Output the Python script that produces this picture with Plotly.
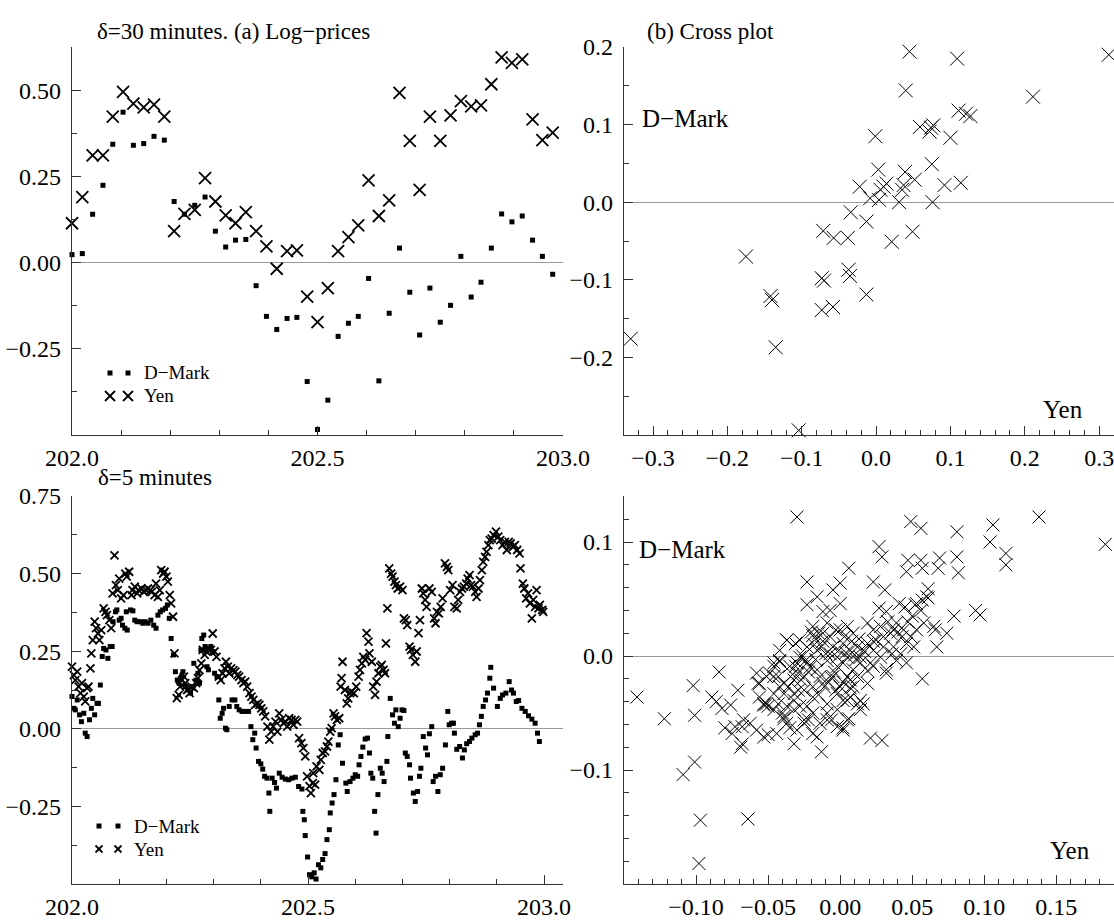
import plotly.graph_objects as go

W, H = 1114, 921
FONT = "Liberation Serif, Times New Roman, serif"
AX = "#333333"

# ---------------- (a) 30-minute log-prices ----------------
t30 = [202.000, 202.021, 202.042, 202.063, 202.083, 202.104, 202.125, 202.146, 202.167, 202.188,
       202.208, 202.229, 202.250, 202.271, 202.292, 202.313, 202.333, 202.354, 202.375, 202.396,
       202.417, 202.438, 202.458, 202.479, 202.500, 202.521, 202.542, 202.563, 202.583, 202.604,
       202.625, 202.646, 202.667, 202.688, 202.708, 202.729, 202.750, 202.771, 202.792, 202.813,
       202.833, 202.854, 202.875, 202.896, 202.917, 202.938, 202.958, 202.979]
dm30 = [0.023, 0.026, 0.140, 0.224, 0.343, 0.436, 0.340, 0.345, 0.366, 0.355,
        0.177, 0.140, 0.166, 0.190, 0.091, 0.045, 0.065, 0.067, -0.067, -0.156,
        -0.194, -0.162, -0.159, -0.345, -0.484, -0.399, -0.214, -0.176, -0.156, -0.046,
        -0.343, -0.147, 0.042, -0.086, -0.210, -0.074, -0.173, -0.124, 0.018, -0.100,
        -0.057, 0.042, 0.141, 0.118, 0.135, 0.065, 0.018, -0.034]
yen30 = [0.114, 0.190, 0.311, 0.311, 0.423, 0.495, 0.461, 0.450, 0.458, 0.423,
         0.091, 0.141, 0.153, 0.245, 0.177, 0.137, 0.114, 0.146, 0.091, 0.047,
         -0.018, 0.033, 0.035, -0.099, -0.173, -0.074, 0.033, 0.074, 0.108, 0.238,
         0.135, 0.180, 0.492, 0.353, 0.211, 0.423, 0.353, 0.427, 0.468, 0.453,
         0.456, 0.517, 0.595, 0.579, 0.589, 0.415, 0.355, 0.377]

# ---------------- (b) 30-minute cross plot ----------------
cross30_yen = [-0.330, -0.175, -0.142, -0.140, -0.135, -0.104, -0.071, -0.057, -0.073, -0.070,
               -0.073, -0.058, -0.038, -0.037, -0.035, -0.034, -0.022, 0.045, 0.109, 0.040,
               -0.001, 0.111, 0.121, 0.127, 0.059, 0.074, 0.072, 0.077, 0.100, 0.003,
               0.075, 0.039, 0.052, 0.014, 0.010, 0.006, 0.037, 0.092, 0.114, 0.035,
               -0.008, 0.004, 0.031, 0.076, -0.013, 0.021, 0.049, -0.013, 0.313, 0.211]
cross30_dm = [-0.176, -0.070, -0.121, -0.126, -0.187, -0.294, -0.037, -0.046, -0.098, -0.101,
              -0.139, -0.135, -0.046, -0.087, -0.095, -0.013, 0.020, 0.194, 0.185, 0.144,
              0.085, 0.118, 0.114, 0.111, 0.097, 0.096, 0.091, 0.099, 0.083, 0.042,
              0.049, 0.039, 0.029, 0.024, 0.020, 0.016, 0.022, 0.022, 0.025, 0.016,
              0.005, 0.003, 0.000, 0.000, -0.025, -0.051, -0.038, -0.119, 0.190, 0.136]

# ---------------- 5-minute log-prices ----------------
dm5_t = [202.000, 202.004, 202.007, 202.011, 202.016, 202.020, 202.025, 202.028, 202.032, 202.037,
         202.041, 202.044, 202.048, 202.053, 202.056, 202.060, 202.064, 202.067, 202.072, 202.076,
         202.081, 202.085, 202.087, 202.092, 202.095, 202.100, 202.104, 202.107, 202.112, 202.117,
         202.115, 202.124, 202.129, 202.133, 202.138, 202.145, 202.150, 202.155, 202.161, 202.167,
         202.173, 202.178, 202.182, 202.187, 202.192, 202.198, 202.202, 202.206, 202.210, 202.215,
         202.219, 202.223, 202.227, 202.232, 202.235, 202.240, 202.246, 202.251, 202.256, 202.258,
         202.263, 202.267, 202.270, 202.273, 202.275, 202.279, 202.282, 202.286, 202.289, 202.294,
         202.298, 202.302, 202.307, 202.311, 202.314, 202.318, 202.321, 202.325, 202.328, 202.333,
         202.339, 202.345, 202.349, 202.354, 202.360, 202.367, 202.374, 202.379, 202.383, 202.387,
         202.390, 202.395, 202.400, 202.404, 202.408, 202.413, 202.417, 202.419, 202.424, 202.429,
         202.433, 202.439, 202.445, 202.452, 202.459, 202.466, 202.473, 202.480, 202.487,
         202.489, 202.492, 202.494, 202.499, 202.503, 202.508, 202.513, 202.517, 202.522, 202.527,
         202.531, 202.536, 202.540, 202.545, 202.547, 202.551, 202.555, 202.559, 202.564, 202.568,
         202.573, 202.580, 202.583, 202.589, 202.595, 202.600, 202.605, 202.608, 202.612, 202.616,
         202.621, 202.626, 202.630, 202.633, 202.637, 202.641, 202.644, 202.648, 202.653, 202.657,
         202.661, 202.667, 202.669, 202.674, 202.679, 202.683, 202.686, 202.691, 202.695, 202.699,
         202.703, 202.706, 202.710, 202.715, 202.717, 202.723, 202.727, 202.732, 202.736, 202.739,
         202.744, 202.749, 202.753, 202.757, 202.762, 202.765, 202.770, 202.775, 202.780, 202.785,
         202.791, 202.796, 202.799, 202.804, 202.808, 202.810, 202.815, 202.821, 202.827, 202.831,
         202.836, 202.842, 202.847, 202.854, 202.859, 202.863, 202.867, 202.871, 202.876, 202.880,
         202.887, 202.885, 202.893, 202.901, 202.907, 202.912, 202.919, 202.926, 202.931, 202.935,
         202.941, 202.946, 202.953, 202.960, 202.967, 202.974, 202.981, 202.986, 202.990]
dm5 = [0.104, 0.066, 0.061, 0.093, 0.045, 0.023, 0.050, -0.014, -0.025, 0.029,
       0.066, 0.098, 0.045, 0.082, 0.082, 0.141, 0.233, 0.259, 0.254, 0.227,
       0.265, 0.265, 0.345, 0.377, 0.383, 0.350, 0.356, 0.334, 0.324, 0.318,
       0.377, 0.383, 0.380, 0.350, 0.345, 0.345, 0.340, 0.345, 0.340, 0.350,
       0.334, 0.324, 0.366, 0.377, 0.383, 0.388, 0.399, 0.356, 0.291, 0.238,
       0.184, 0.157, 0.147, 0.168, 0.184, 0.136, 0.125, 0.115, 0.136, 0.211,
       0.157, 0.179, 0.147, 0.254, 0.291, 0.302, 0.265, 0.200, 0.190, 0.265,
       0.249, 0.179, 0.168, 0.093, 0.034, 0.050, 0.066, 0.002, -0.003, 0.072,
       0.093, 0.093, 0.072, 0.061, 0.056, 0.056, 0.056, 0.007, -0.035, -0.014,
       -0.062, -0.105, -0.113, -0.130, -0.153, -0.159, -0.207, -0.266, -0.159, -0.173,
       -0.191, -0.143, -0.156, -0.162, -0.164, -0.159, -0.156, -0.186, -0.194,
       -0.266, -0.293, -0.344, -0.413, -0.470, -0.477, -0.464, -0.484, -0.438, -0.448,
       -0.421, -0.402, -0.357, -0.325, -0.271, -0.239, -0.212, -0.164, -0.052, -0.019,
       -0.111, -0.175, -0.202, -0.170, -0.159, -0.148, -0.153, -0.116, -0.089, -0.059,
       -0.033, -0.030, -0.078, -0.143, -0.159, -0.266, -0.336, -0.212, -0.127, -0.143,
       -0.170, -0.105, -0.025, 0.098, 0.045, 0.018, 0.061, 0.007, 0.034, 0.061,
       0.059, -0.078, -0.089, -0.116, -0.159, -0.207, -0.234, -0.202, -0.153, -0.127,
       -0.025, -0.062, -0.084, -0.016, 0.007, -0.170, -0.153, -0.202, -0.148, -0.127,
       -0.052, 0.056, 0.013, 0.018, 0.018, -0.014, -0.066, -0.057, -0.094, -0.068,
       -0.048, -0.041, -0.030, -0.019, -0.014, 0.013, 0.040, 0.072, 0.093, 0.115,
       0.198, 0.163, 0.131, 0.072, 0.098, 0.109, 0.115, 0.152, 0.125, 0.115,
       0.088, 0.091, 0.066, 0.056, 0.042, 0.031, 0.018, -0.014, -0.041]

yen5_t = [202.000, 202.004, 202.007, 202.011, 202.014, 202.018, 202.021, 202.025, 202.028, 202.032,
          202.035, 202.039, 202.041, 202.044, 202.048, 202.051, 202.055, 202.058, 202.062, 202.067,
          202.071, 202.074, 202.079, 202.083, 202.086, 202.090, 202.093, 202.097, 202.100, 202.104,
          202.109, 202.113, 202.116, 202.121, 202.126, 202.128, 202.133, 202.138, 202.141, 202.147,
          202.152, 202.157, 202.161, 202.166, 202.169, 202.175, 202.178, 202.182, 202.186, 202.189,
          202.193, 202.196, 202.200, 202.203, 202.207, 202.210, 202.214, 202.217, 202.222, 202.226,
          202.229, 202.233, 202.237, 202.240, 202.244, 202.249, 202.253, 202.258, 202.263, 202.267,
          202.270, 202.274, 202.277, 202.281, 202.285, 202.289, 202.294, 202.298, 202.302, 202.306,
          202.311, 202.315, 202.319, 202.323, 202.326, 202.330, 202.333, 202.337, 202.342, 202.346,
          202.350, 202.354, 202.359, 202.363, 202.367, 202.371, 202.376, 202.380, 202.384, 202.388,
          202.393, 202.397, 202.401, 202.405, 202.409, 202.414, 202.418, 202.422, 202.426, 202.431,
          202.435, 202.439, 202.443, 202.448, 202.452, 202.456, 202.460, 202.465, 202.469, 202.473,
          202.477, 202.481, 202.486, 202.490, 202.494, 202.498, 202.503, 202.506,
          202.510, 202.511, 202.515, 202.518, 202.524, 202.527, 202.531, 202.536, 202.540, 202.543,
          202.547, 202.550, 202.554, 202.557, 202.561, 202.566, 202.569, 202.571, 202.573, 202.578,
          202.582, 202.585, 202.589, 202.592, 202.597, 202.602, 202.607, 202.610, 202.614, 202.617,
          202.621, 202.624, 202.628, 202.630, 202.635, 202.638, 202.642, 202.645, 202.649, 202.653,
          202.656, 202.660, 202.663, 202.665, 202.668, 202.672, 202.676, 202.679, 202.683, 202.686,
          202.690, 202.695, 202.700, 202.703, 202.707, 202.710, 202.715, 202.718, 202.722, 202.727,
          202.730, 202.734, 202.737, 202.741, 202.744, 202.748, 202.751, 202.757, 202.762, 202.767,
          202.770, 202.773, 202.777, 202.781, 202.785, 202.790, 202.794, 202.797, 202.801, 202.806,
          202.810, 202.815, 202.818, 202.822, 202.826, 202.830, 202.835, 202.838, 202.842, 202.845,
          202.849, 202.854, 202.857, 202.861, 202.864, 202.868, 202.871, 202.875, 202.878, 202.882,
          202.885, 202.889, 202.893, 202.898, 202.903, 202.907, 202.912, 202.917, 202.921, 202.925,
          202.929, 202.934, 202.938, 202.943, 202.948, 202.950, 202.955, 202.958, 202.962, 202.966,
          202.970, 202.974, 202.977, 202.981, 202.984, 202.988, 202.991, 202.996, 202.998]
yen5 = [0.200, 0.173, 0.157, 0.184, 0.136, 0.115, 0.147, 0.104, 0.088, 0.131,
        0.136, 0.195, 0.243, 0.286, 0.345, 0.324, 0.307, 0.286, 0.318, 0.388,
        0.377, 0.366, 0.350, 0.324, 0.436, 0.559, 0.463, 0.447, 0.484, 0.420,
        0.431, 0.500, 0.490, 0.506, 0.431, 0.447, 0.458, 0.436, 0.447, 0.452,
        0.441, 0.447, 0.452, 0.447, 0.441, 0.431, 0.468, 0.425, 0.447, 0.511,
        0.500, 0.506, 0.490, 0.474, 0.431, 0.404, 0.361, 0.243, 0.099, 0.109,
        0.136, 0.157, 0.168, 0.147, 0.125, 0.115, 0.136, 0.131, 0.147, 0.163,
        0.189, 0.211, 0.254, 0.238, 0.249, 0.259, 0.254, 0.307, 0.249, 0.232,
        0.168, 0.157, 0.179, 0.195, 0.216, 0.200, 0.179, 0.195, 0.189, 0.184,
        0.173, 0.168, 0.157, 0.147, 0.152, 0.136, 0.115, 0.104, 0.093, 0.077,
        0.082, 0.077, 0.066, 0.056, 0.040, 0.007, -0.035, -0.009, 0.007, 0.023,
        -0.009, 0.050, 0.029, 0.018, 0.023, 0.007, 0.034, 0.029, 0.013, 0.029,
        0.023, -0.030, -0.046, -0.062, -0.089, -0.153, -0.185, -0.207,
        -0.175, -0.143, -0.180, -0.121, -0.132, -0.100, -0.078, -0.073, -0.057, -0.041,
        -0.009, 0.002, 0.050, 0.040, 0.029, 0.034, 0.136, 0.163, 0.216, 0.125,
        0.082, 0.098, 0.115, 0.120, 0.115, 0.136, 0.168, 0.190, 0.211, 0.232,
        0.222, 0.308, 0.281, 0.243, 0.216, 0.136, 0.109, 0.152, 0.179, 0.200,
        0.206, 0.190, 0.179, 0.275, 0.388, 0.517, 0.500, 0.490, 0.474, 0.463,
        0.452, 0.458, 0.447, 0.356, 0.350, 0.334, 0.265, 0.254, 0.238, 0.216,
        0.249, 0.308, 0.350, 0.452, 0.436, 0.415, 0.393, 0.452, 0.441, 0.356,
        0.340, 0.377, 0.372, 0.393, 0.420, 0.533, 0.522, 0.511, 0.447, 0.463,
        0.393, 0.388, 0.415, 0.441, 0.452, 0.458, 0.468, 0.484, 0.495, 0.463,
        0.458, 0.441, 0.425, 0.452, 0.479, 0.511, 0.538, 0.554, 0.570, 0.592,
        0.608, 0.613, 0.624, 0.635, 0.619, 0.608, 0.592, 0.602, 0.576, 0.602,
        0.597, 0.586, 0.592, 0.576, 0.565, 0.517, 0.468, 0.452, 0.420, 0.436,
        0.404, 0.356, 0.415, 0.393, 0.447, 0.388, 0.399, 0.383, 0.377]

# ---------------- 5-minute cross plot ----------------
cross5_yen = [
    -0.141, -0.122, -0.102, -0.101, -0.109, -0.101, -0.097, -0.098, -0.064, -0.030,
    -0.084, -0.089, -0.086, -0.082, -0.080, -0.076, -0.075, -0.073, -0.071, -0.069,
    -0.068, -0.067, -0.068, -0.058, -0.057, -0.058, -0.053, -0.053, -0.050, -0.050,
    -0.046, -0.044, -0.043, -0.042, -0.040, -0.039, -0.037, -0.035, -0.032, -0.031,
    -0.029, -0.028, -0.023, -0.023, -0.022, -0.019, -0.016, -0.016, -0.013, -0.012,
    -0.009, -0.006, -0.005, 0.000, 0.002, 0.006,
    0.049, 0.056, 0.081, 0.106, 0.104, 0.138, 0.184, 0.027, 0.029, 0.081,
    0.082, 0.115, 0.115, 0.069, 0.068, 0.056, 0.057, 0.047, 0.046, 0.023,
    0.031, 0.061, 0.094, 0.097, 0.079, 0.066, 0.074, 0.067, 0.057, 0.053,
    0.061, 0.041, 0.002, 0.006, 0.014, 0.021, 0.029, 0.032, 0.002, 0.009,
    0.005,
    -0.007, 0.000, 0.027, 0.032, 0.045, 0.052, 0.057, 0.060, -0.019, -0.015,
    -0.009, 0.000, 0.005, 0.009, 0.019, 0.023, 0.028, 0.035, 0.039, 0.044,
    0.049, 0.053, 0.058, 0.065, -0.037, -0.031, -0.023, -0.016, -0.012, -0.005,
    0.002, 0.007, 0.012, 0.019, 0.023, 0.030, 0.037, 0.042, 0.046, 0.051,
    -0.046, -0.042, -0.035, -0.028, -0.023, -0.016, -0.009, -0.002, 0.002, 0.009,
    0.014, 0.023, 0.032, 0.039, 0.046, -0.046, -0.039, -0.032, -0.025, -0.019,
    -0.012, -0.005, 0.000, 0.007, 0.012, 0.019, -0.056, -0.051, -0.039, -0.032,
    -0.025, -0.019, -0.009, -0.002, 0.005, 0.012, 0.016, -0.0625, -0.053, -0.046,
    -0.039, -0.032, -0.025, -0.019, -0.009, -0.002, 0.005, 0.014,
    -0.020, -0.017, -0.013, -0.007, -0.002, 0.003, 0.008, 0.010, 0.014, 0.005,
    -0.022, -0.014, -0.008, -0.024, -0.030, 0.002, -0.003, -0.015, -0.029, -0.036,
    0.021, 0.028, 0.036, 0.050, 0.056, 0.047, 0.043, 0.030, 0.037, 0.023,
    0.016, -0.007, -0.003, -0.012, -0.028, -0.042, -0.049, -0.056, -0.043, -0.023,
    0.007, -0.014, -0.002, -0.037, -0.030, -0.032, -0.019, -0.025, -0.037, -0.051,
    -0.046, -0.042,
    -0.018, -0.010, -0.004, 0.004, 0.011, -0.026, -0.021, 0.017, 0.025, -0.011,
    -0.001, -0.017, 0.007, 0.013, -0.027, 0.019, -0.006, 0.033, 0.040, -0.033]
cross5_dm = [
    -0.036, -0.055, -0.026, -0.052, -0.104, -0.093, -0.144, -0.182, -0.143, 0.122,
    -0.014, -0.036, -0.040, -0.046, -0.063, -0.043, -0.068, -0.062, -0.030, -0.080,
    -0.077, -0.056, -0.062, -0.015, -0.024, -0.065, -0.071, -0.043, -0.044, -0.069,
    -0.009, -0.068, -0.018, -0.005, -0.050, -0.055, 0.014, -0.063, -0.033, -0.009,
    -0.015, -0.044, 0.065, 0.045, -0.056, 0.018, 0.052, -0.071, -0.084, 0.039,
    -0.050, -0.056, 0.058, 0.064, -0.063, 0.077,
    0.118, 0.112, 0.109, 0.115, 0.100, 0.122, 0.098, 0.096, 0.087, 0.087,
    0.073, 0.090, 0.080, 0.086, 0.077, 0.084, 0.077, 0.084, 0.074, 0.065,
    0.058, 0.059, 0.040, 0.036, 0.035, 0.023, 0.020, 0.008, -0.020, 0.046,
    0.051, 0.046, -0.065, -0.055, -0.039, -0.072, -0.074, -0.015, -0.039, -0.027,
    -0.018,
    0.040, 0.046, 0.042, 0.039, 0.043, 0.045, 0.049, 0.052, 0.026, 0.020,
    0.029, 0.023, 0.026, 0.020, 0.029, 0.023, 0.026, 0.020, 0.029, 0.023,
    0.017, 0.023, 0.029, 0.026, 0.014, 0.011, 0.008, 0.005, 0.013, 0.008,
    0.011, 0.005, 0.008, 0.011, 0.005, 0.008, 0.008, 0.002, 0.011, 0.008,
    -0.006, -0.004, -0.009, -0.001, -0.006, -0.012, -0.004, -0.009, -0.006, -0.012,
    -0.001, -0.009, -0.012, -0.004, -0.006, -0.018, -0.024, -0.021, -0.018, -0.027,
    -0.024, -0.018, -0.027, -0.021, -0.018, -0.024, -0.024, -0.042, -0.033, -0.039,
    -0.030, -0.036, -0.042, -0.033, -0.039, -0.042, -0.042, -0.059, -0.042, -0.047,
    -0.053, -0.047, -0.056, -0.050, -0.056, -0.047, -0.056, -0.047,
    0.021, 0.015, 0.008, 0.002, -0.001, 0.017, 0.013, 0.001, -0.006, -0.001,
    -0.014, -0.018, -0.023, -0.004, -0.006, -0.023, -0.030, -0.034, -0.030, -0.027,
    -0.006, -0.001, 0.002, 0.035, 0.040, 0.030, 0.017, 0.017, 0.023, 0.013,
    0.005, 0.017, 0.023, 0.020, 0.014, 0.005, -0.015, -0.036, -0.042, -0.044,
    -0.036, -0.059, -0.062, -0.059, -0.065, -0.077, -0.068, -0.059, -0.044, -0.018,
    -0.033, -0.027,
    0.010, 0.002, -0.014, 0.003, -0.003, 0.000, -0.010, 0.004, 0.014, -0.027,
    0.005, -0.003, -0.028, 0.015, -0.021, -0.013, -0.019, 0.030, 0.021, -0.016]

# ---------------- layout helpers ----------------
def px(p):
    return p / W


def py(p):
    return 1 - p / H


dom_xl = [px(72), px(563)]
dom_xr = [px(624), 1.0]
dom_yt = [py(435), py(47)]
dom_yb = [py(884), py(496)]


def axis(domain, rng, tickvals, ticktext, mdtick, mtick0, anchor, zeroline=False, standoff=5):
    return dict(domain=domain, range=rng, tickmode="array", tickvals=tickvals, ticktext=ticktext,
                ticks="inside", ticklen=9, tickwidth=1, tickcolor=AX,
                minor=dict(ticks="inside", ticklen=5, tickwidth=1, tickcolor=AX,
                           tickmode="linear", dtick=mdtick, tick0=mtick0, showgrid=False),
                showline=True, linecolor=AX, linewidth=1.4, showgrid=False,
                zeroline=zeroline, zerolinecolor="#9a9a9a", zerolinewidth=1,
                tickfont=dict(family=FONT, size=24, color="black"),
                ticklabeloverflow="allow",
                anchor=anchor, automargin=False, ticklabelstandoff=standoff)


fig = go.Figure()

sq = lambda s: dict(symbol="square", size=s, color="black", line=dict(width=0))
xm = lambda s, w: dict(symbol="x-thin", size=s, color="black", line=dict(width=w, color="black"))

fig.add_trace(go.Scatter(x=t30, y=dm30, mode="markers", marker=sq(5), xaxis="x", yaxis="y",
                         cliponaxis=False, showlegend=False))
fig.add_trace(go.Scatter(x=t30, y=yen30, mode="markers", marker=xm(12, 1.8), xaxis="x", yaxis="y",
                         cliponaxis=False, showlegend=False))
fig.add_trace(go.Scatter(x=cross30_yen, y=cross30_dm, mode="markers", marker=xm(14, 1.0),
                         xaxis="x2", yaxis="y2", cliponaxis=False, showlegend=False))
fig.add_trace(go.Scatter(x=dm5_t, y=dm5, mode="markers", marker=sq(5), xaxis="x3", yaxis="y3",
                         cliponaxis=False, showlegend=False))
fig.add_trace(go.Scatter(x=yen5_t, y=yen5, mode="markers", marker=xm(8, 1.8), xaxis="x3", yaxis="y3",
                         cliponaxis=False, showlegend=False))
fig.add_trace(go.Scatter(x=cross5_yen, y=cross5_dm, mode="markers", marker=xm(13, 1.0),
                         xaxis="x4", yaxis="y4", cliponaxis=False, showlegend=False))

yr_lbl = ["0.50", "0.25", "0.00", "\u22120.25"]
fig.update_layout(
    xaxis=axis(dom_xl, [202.0, 203.0], [202.0, 202.5, 203.0], ["202.0", "202.5", "203.0"], 0.1, 202.0, "y", standoff=1),
    yaxis=axis(dom_yt, [-0.5, 0.625], [0.5, 0.25, 0.0, -0.25], yr_lbl, 0.125, -0.5, "x", zeroline=True),
    xaxis2=axis(dom_xr, [-0.339, 0.320], [-0.3, -0.2, -0.1, 0.0, 0.1, 0.2, 0.3],
                ["\u22120.3", "\u22120.2", "\u22120.1", "0.0", "0.1", "0.2", "0.3"], 0.02, -0.3, "y2", standoff=1),
    yaxis2=axis(dom_yt, [-0.3, 0.2], [0.2, 0.1, 0.0, -0.1, -0.2],
                ["0.2", "0.1", "0.0", "\u22120.1", "\u22120.2"], 0.05, -0.3, "x2", zeroline=True),
    xaxis3=axis(dom_xl, [202.0, 203.04], [202.0, 202.5, 203.0], ["202.0", "202.5", "203.0"], 0.1, 202.0, "y3", standoff=1),
    yaxis3=axis(dom_yb, [-0.5, 0.75], [0.75, 0.5, 0.25, 0.0, -0.25],
                ["0.75", "0.50", "0.25", "0.00", "\u22120.25"], 0.125, -0.5, "x3", zeroline=True),
    xaxis4=axis(dom_xr, [-0.15, 0.19], [-0.10, -0.05, 0.0, 0.05, 0.10, 0.15],
                ["\u22120.10", "\u22120.05", "0.00", "0.05", "0.10", "0.15"], 0.01, -0.15, "y4", standoff=1),
    yaxis4=axis(dom_yb, [-0.2, 0.1404], [0.1, 0.0, -0.1], ["0.1", "0.0", "\u22120.1"], 0.02, -0.2, "x4", zeroline=True),
)

ann = []


def text(x, y, s, size, anchor="left"):
    ann.append(dict(x=px(x), y=py(y), xref="paper", yref="paper", text=s, showarrow=False,
                    xanchor=anchor, yanchor="middle",
                    font=dict(family=FONT, size=size, color="black")))


text(95, 31, "\u03b4=30 minutes. (a) Log\u2212prices", 23)
text(645, 31, "(b) Cross plot", 23)
text(96, 477, "\u03b4=5 minutes", 23)
text(640, 118, "D\u2212Mark", 25)
text(1085, 409, "Yen", 25, "right")
text(637, 549, "D\u2212Mark", 25)
text(1092, 850, "Yen", 25, "right")
text(142, 373, "D\u2212Mark", 19)
text(142, 396, "Yen", 19)
text(132, 826, "D\u2212Mark", 19)
text(132, 849, "Yen", 19)

shapes = []


def sq_glyph(cx, cy, s=5):
    h = s / 2
    shapes.append(dict(type="rect", xref="paper", yref="paper", x0=px(cx - h), x1=px(cx + h),
                       y0=py(cy + h), y1=py(cy - h), fillcolor="black", line=dict(width=0)))


def x_glyph(cx, cy, h, w):
    for d in (1, -1):
        shapes.append(dict(type="line", xref="paper", yref="paper", x0=px(cx - h), x1=px(cx + h),
                           y0=py(cy - d * h), y1=py(cy + d * h), line=dict(color="black", width=w)))


for cx in (110, 128):
    sq_glyph(cx, 373)
    x_glyph(cx, 396, 5, 1.8)
for cx in (99, 118):
    sq_glyph(cx, 826)
    x_glyph(cx, 849, 3.5, 1.8)

fig.update_layout(annotations=ann, shapes=shapes, width=W, height=H,
                  margin=dict(l=0, r=0, t=0, b=0), paper_bgcolor="white", plot_bgcolor="white",
                  showlegend=False)

fig.write_html("out.html")
